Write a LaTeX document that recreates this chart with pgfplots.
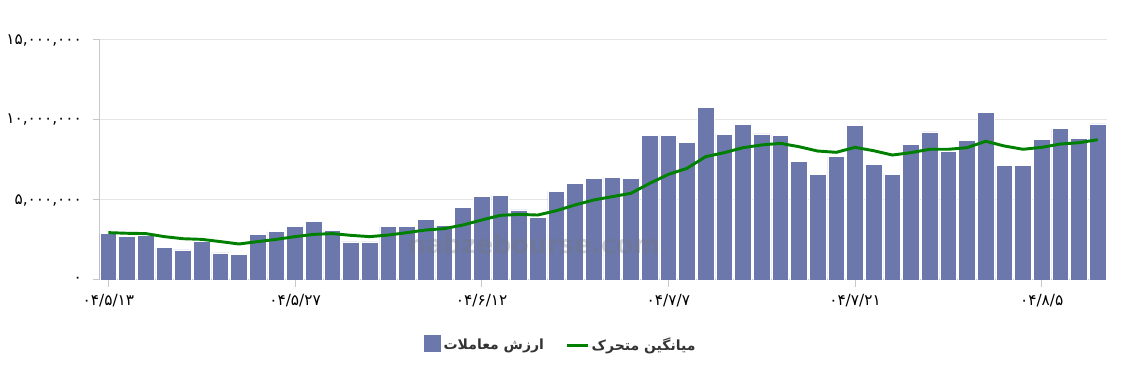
\documentclass[border=0pt]{standalone}
\usepackage{fontspec}
\usepackage{pgfplots}
\pgfplotsset{compat=1.18}
\setmainfont{DejaVu Sans}
\newfontfamily\fa[Script=Arabic]{DejaVu Sans}
\newfontfamily\fad{DejaVu Sans}
\TeXXeTstate=1
\definecolor{barc}{RGB}{108,120,172}
\definecolor{linec}{RGB}{0,128,0}
\definecolor{gridc}{RGB}{228,228,228}
\definecolor{axc}{RGB}{200,200,200}

\pgfplotstableread{
x y
0 2.92
1 2.71
2 2.81
3 2.02
4 1.875
5 2.4
6 1.69
7 1.6
8 2.85
9 3.04
10 3.35
11 3.65
12 3.1
13 2.375
14 2.375
15 3.33
16 3.33
17 3.79
18 3.42
19 4.56
20 5.21
21 5.31
22 4.375
23 3.9
24 5.56
25 6.04
26 6.33
27 6.42
28 6.35
29 9.06
30 9.06
31 8.6
32 10.79
33 9.1
34 9.73
35 9.13
36 9.06
37 7.4
38 6.6
39 7.71
40 9.67
41 7.23
42 6.58
43 8.46
44 9.25
45 8.04
46 8.73
47 10.48
48 7.15
49 7.15
50 8.79
51 9.46
52 8.83
53 9.75
}\bars

\pgfplotstableread{
x y
0 2.96
1 2.92
2 2.9
3 2.71
4 2.58
5 2.54
6 2.4
7 2.25
8 2.4
9 2.54
10 2.71
11 2.85
12 2.9
13 2.79
14 2.71
15 2.81
16 2.96
17 3.125
18 3.21
19 3.44
20 3.75
21 4.04
22 4.1
23 4.06
24 4.33
25 4.69
26 5.0
27 5.21
28 5.42
29 6.04
30 6.6
31 6.98
32 7.71
33 7.96
34 8.27
35 8.44
36 8.54
37 8.33
38 8.06
39 7.98
40 8.29
41 8.08
42 7.81
43 7.96
44 8.17
45 8.17
46 8.27
47 8.67
48 8.375
49 8.17
50 8.29
51 8.5
52 8.58
53 8.77
}\avg

\begin{document}
\begin{tikzpicture}
\useasboundingbox (-75pt,-72.75pt) rectangle (765.75pt,210pt);
\begin{axis}[
  name=ax,
  at={(0,0)}, anchor=south west,
  scale only axis, width=755.25pt, height=180pt,
  xmin=-0.45, xmax=53.5, ymin=0, ymax=15,
  axis x line*=bottom, axis y line*=left,
  axis line style={axc, line width=0.75pt},
  ytick={0,5,10,15},
  yticklabels={۰,{۵,۰۰۰,۰۰۰},{۱۰,۰۰۰,۰۰۰},{۱۵,۰۰۰,۰۰۰}},
  xtick={0,10,20,30,40,50},
  xticklabels={۰۴/۵/۱۳,۰۴/۵/۲۷,۰۴/۶/۱۲,۰۴/۷/۷,۰۴/۷/۲۱,۰۴/۸/۵},
  tick align=outside, major tick length=5pt,
  tick style={axc, line width=0.75pt},
  ymajorgrids, grid style={gridc, line width=0.75pt},
  ticklabel style={font=\fad\fontsize{11.5}{13}\selectfont, text=black},
  yticklabel style={xshift=-5pt},
  xticklabel style={yshift=-2pt},
  legend style={at={(0.458,-0.271)}, anchor=center, draw=none, fill=none,
    legend columns=2, font=\fa\bfseries\fontsize{10.5}{12}\selectfont, text=black!80,
    /tikz/every even column/.append style={column sep=14pt}},
  legend cell align=left,
]
\addplot[ybar, bar width=0.9, fill=barc, draw=white, line width=0.6pt,
  legend image code/.code={\fill[barc] (0cm,-0.17cm) rectangle (0.42cm,0.25cm);}]
  table[x=x,y=y] {\bars};
\addlegendentry{\beginR ارزش معاملات\endR}
\addplot[linec, line width=2.2pt, mark=none,
  legend image code/.code={\draw[linec,line width=2.2pt] (0cm,0cm) -- (0.55cm,0cm);}]
  table[x=x,y=y] {\avg};
\addlegendentry{\beginR میانگین متحرک\endR}
\node[text=black!55, opacity=0.3, font=\bfseries\fontsize{19}{20}\selectfont] at (axis cs:22.8,2.25) {nabzebourse.com};
\end{axis}
\end{tikzpicture}
\end{document}
